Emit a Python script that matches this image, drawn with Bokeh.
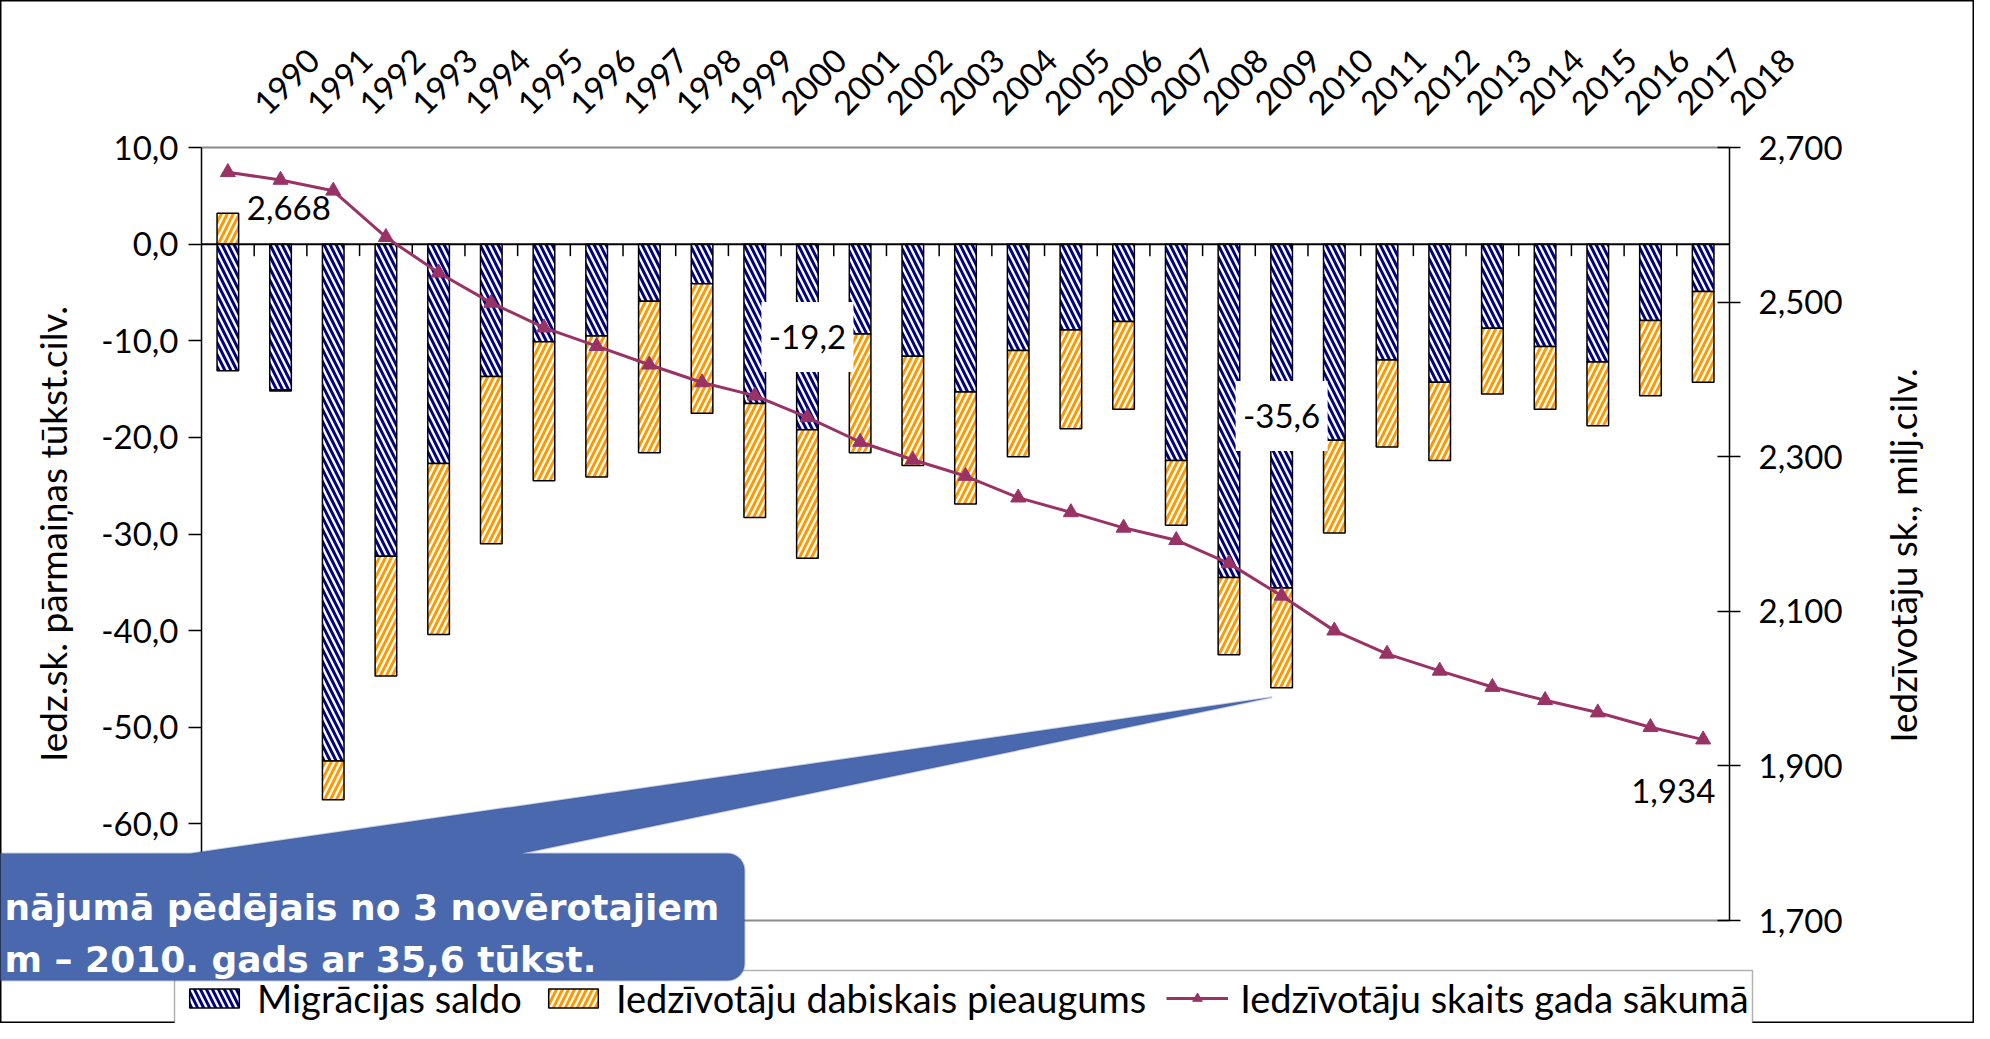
import numpy as np
from math import pi
from bokeh.plotting import figure
from bokeh.models import (Range1d, LinearAxis, FixedTicker, CustomJSTickFormatter,
                          Legend, LegendItem, PolyAnnotation, BoxAnnotation, Label)
from bokeh.core.properties import value
from bokeh.embed import file_html
from bokeh.resources import INLINE

# ---------------- data ----------------
years = ["1990", "1991", "1992", "1993", "1994", "1995", "1996", "1997", "1998", "1999",
         "2000", "2001", "2002", "2003", "2004", "2005", "2006", "2007", "2008", "2009",
         "2010", "2011", "2012", "2013", "2014", "2015", "2016", "2017", "2018"]
# Migrācijas saldo, tūkst. cilv.
migration = [-13.1, -15.1, -53.5, -32.3, -22.7, -13.7, -10.1, -9.5, -5.9, -4.1,
             -16.5, -19.2, -9.3, -11.6, -15.3, -11.0, -8.9, -8.0, -22.4, -34.5,
             -35.6, -20.3, -12.0, -14.3, -8.7, -10.6, -12.2, -7.9, -4.9]
# Iedzīvotāju dabiskais pieaugums, tūkst. cilv.
natural = [3.2, -0.1, -4.0, -12.4, -17.7, -17.3, -14.4, -14.6, -15.7, -13.4,
           -11.8, -13.3, -12.3, -11.3, -11.6, -11.0, -10.2, -9.1, -6.7, -8.0,
           -10.3, -9.6, -9.0, -8.1, -6.8, -6.5, -6.6, -7.8, -9.4]
# Iedzīvotāju skaits gada sākumā, milj. cilv.
population = [2.668, 2.658, 2.644, 2.584, 2.538, 2.499, 2.467, 2.443, 2.419, 2.396,
              2.379, 2.351, 2.319, 2.296, 2.275, 2.247, 2.228, 2.208, 2.192, 2.162,
              2.120, 2.075, 2.045, 2.023, 2.002, 1.985, 1.969, 1.950, 1.934]
left_min, left_max = -70, 10
left_ticks = [10, 0, -10, -20, -30, -40, -50, -60]
right_min, right_max = 1.7, 2.7
right_ticks = [1.7, 1.9, 2.1, 2.3, 2.5, 2.7]
labelled_years = ["2001", "2010"]
series_names = ["Migrācijas saldo", "Iedzīvotāju dabiskais pieaugums",
                "Iedzīvotāju skaits gada sākumā"]
left_title = "Iedz.sk. pārmaiņas tūkst.cilv."
right_title = "Iedzīvotāju sk., milj.cilv."
callout_lines = ["nājumā pēdējais no 3 novērotajiem", "m – 2010. gads ar 35,6 tūkst."]

# ---------------- layout (canvas pixels) ----------------
W, H = 1974, 1023
PL, PR, PT, PB = 201, 1729, 147, 920      # plot area inside the canvas
n = len(years)
cat_w = (PR - PL) / n
ppu = (PB - PT) / (left_max - left_min)
ppu2 = (PB - PT) / (right_max - right_min)
x0 = -0.5 - PL / cat_w
x1 = n - 0.5 + (W - PR) / cat_w
y1 = left_max + PT / ppu
y0 = left_min - (H - PB) / ppu
r1 = right_max + PT / ppu2
r0 = right_min - (H - PB) / ppu2


def dx(page_x):
    return x0 + (page_x - 8) / cat_w


def dy(page_y):
    return y1 - (page_y - 8) / ppu


# ---------------- derived ----------------
idx = np.arange(n)
mig = np.array(migration)
nat = np.array(natural)
mig_bottom = np.minimum(mig, 0)
mig_top = np.maximum(mig, 0)
nat_bottom = np.where(nat >= 0, 0, mig_bottom + nat)
nat_top = np.where(nat >= 0, nat, mig_bottom)

FONT = "Lato"
FS = "33px"      # numbers
FS_T = "37px"    # words
NAVY = "#000080"
ORANGE = "#FF9900"
PLUM = "#993366"
CALLOUT = "#4A68AD"

p = figure(width=W, height=H, output_backend="svg", toolbar_location=None,
           x_range=Range1d(x0, x1), y_range=Range1d(y0, y1),
           x_axis_location="above", y_axis_location="left")
p.min_border = 0
p.extra_y_ranges = {"pop": Range1d(r0, r1)}
p.grid.visible = False
p.outline_line_color = "black"
p.outline_line_width = 2
p.background_fill_color = "white"
p.border_fill_color = "white"

# top category axis (labels only)
xa = p.xaxis[0]
xa.fixed_location = left_max
xa.ticker = FixedTicker(ticks=[float(i) + 0.6 for i in idx])
xa.formatter = CustomJSTickFormatter(args=dict(labels=years),
                                     code="return labels[Math.round(tick - 0.6)]")
xa.axis_line_color = None
xa.major_tick_line_color = None
xa.minor_tick_line_color = None
xa.major_tick_out = 0
xa.major_label_standoff = 39
xa.major_label_orientation = pi / 4
xa.major_label_text_font = FONT
xa.major_label_text_font_size = FS
xa.major_label_text_color = "black"

# left axis
ya = p.yaxis[0]
ya.fixed_location = -0.5
ya.bounds = (left_min, left_max)
ya.ticker = FixedTicker(ticks=left_ticks)
ya.formatter = CustomJSTickFormatter(code="return tick.toFixed(1).replace('.', ',')")
ya.minor_tick_line_color = None
ya.major_tick_in = 0
ya.major_tick_out = 13
ya.major_tick_line_width = 1.5
ya.axis_line_width = 1.5
ya.major_label_standoff = 10
ya.major_label_text_font = FONT
ya.major_label_text_font_size = FS
ya.major_label_text_color = "black"

# right axis
ra = LinearAxis(y_range_name="pop", ticker=FixedTicker(ticks=right_ticks),
                formatter=CustomJSTickFormatter(code="return tick.toFixed(3).replace('.', ',')"))
ra.fixed_location = n - 0.5
ra.bounds = (right_min, right_max)
ra.minor_tick_line_color = None
ra.major_tick_in = 12
ra.major_tick_out = 11
ra.major_tick_line_width = 1.5
ra.axis_line_width = 1.5
ra.major_label_standoff = 18
ra.major_label_text_font = FONT
ra.major_label_text_font_size = FS
ra.major_label_text_color = "black"
p.add_layout(ra, "right")

# plot-area top/bottom border lines (gray)
p.segment(x0=[-0.5, -0.5], y0=[left_max, left_min], x1=[n - 0.5, n - 0.5],
          y1=[left_max, left_min], line_color="#8A8A8A", line_width=2)

# bars
r_mig = p.vbar(x=idx, bottom=mig_bottom, top=mig_top, width=0.41, fill_color="white",
               hatch_color=NAVY, hatch_pattern="\\", hatch_scale=12, hatch_weight=3,
               line_color="black", line_width=1.5)
r_nat = p.vbar(x=idx, bottom=nat_bottom, top=nat_top, width=0.41, fill_color="white",
               hatch_color=ORANGE, hatch_pattern="/", hatch_scale=12, hatch_weight=3,
               line_color="black", line_width=1.5)

# category axis at zero with tick marks between categories
p.segment(x0=[-0.5], y0=[0], x1=[n - 0.5], y1=[0], line_color="black", line_width=2)
bounds = idx[:-1] + 0.5
p.segment(x0=bounds, y0=np.zeros(len(bounds)), x1=bounds, y1=np.full(len(bounds), -12 / ppu),
          line_color="black", line_width=1.5)

# data labels on migration bars (white boxes)
lab_idx = [years.index(y) for y in labelled_years]
lab_x = [int(i) for i in lab_idx]
lab_y = [migration[i] / 2 for i in lab_idx]
lab_t = [("%.1f" % migration[i]).replace(".", ",") for i in lab_idx]
p.rect(x=lab_x, y=lab_y, width=92, height=70, width_units="screen", height_units="screen",
       fill_color="white", line_color=None)
p.text(x=lab_x, y=lab_y, text=lab_t, text_font=value(FONT), text_font_size=FS,
       text_align="center", text_baseline="middle", text_color="black")

# population line
r_line = p.line(x=idx, y=population, y_range_name="pop", line_color=PLUM, line_width=3)
r_pts = p.scatter(x=idx, y=population, y_range_name="pop", marker="triangle", size=15,
                  fill_color=PLUM, line_color=PLUM)

fmt3 = lambda v: ("%.3f" % v).replace(".", ",")
p.text(x=[idx[0] + 0.36], y=[population[0] - 0.046], text=[fmt3(population[0])],
       y_range_name="pop", text_font=value(FONT), text_font_size=FS,
       text_align="left", text_baseline="middle", text_color="black")
p.text(x=[idx[-1] + 0.23], y=[population[-1] - 0.066], text=[fmt3(population[-1])],
       y_range_name="pop", text_font=value(FONT), text_font_size=FS,
       text_align="right", text_baseline="middle", text_color="black")

# axis titles
p.add_layout(Label(x=dx(60), y=(left_min + left_max) / 2, text=left_title, angle=pi / 2,
                   text_font=FONT, text_font_size=FS_T, text_color="black",
                   text_align="center", text_baseline="middle"))
p.add_layout(Label(x=dx(1910), y=dy(563), text=right_title, angle=pi / 2,
                   text_font=FONT, text_font_size=FS_T, text_color="black",
                   text_align="center", text_baseline="middle"))

# legend frame (drawn separately so the callout can cover it)
p.add_layout(BoxAnnotation(left=dx(182), right=dx(1760), top=dy(978), bottom=dy(1045),
                           fill_color="white", fill_alpha=1, line_color="black",
                           line_width=1.5, level="annotation"))
legend = Legend(items=[LegendItem(label=series_names[0], renderers=[r_mig]),
                       LegendItem(label=series_names[1], renderers=[r_nat]),
                       LegendItem(label=series_names[2], renderers=[r_line, r_pts])],
                orientation="horizontal", location=(183, 2),
                glyph_width=62, glyph_height=24, label_standoff=12, spacing=20,
                padding=4, border_line_color=None,
                label_text_font=FONT, label_text_font_size="38px", label_text_color="black",
                background_fill_alpha=0)
p.add_layout(legend)

# callout (rounded box with pointer to the 2010 bar), drawn on top
i2010 = years.index("2010")
tip_x = i2010 - 0.18
tip_y = migration[i2010] + natural[i2010] - 1.0
left, right, top, bottom = dx(-20), dx(752), dy(861), dy(988)
xb1, xb2 = dx(198), dx(529)
rx, ry = 17 / cat_w, 17 / ppu
xs = [xb1, tip_x, xb2]
ys = [top, tip_y, top]
for th in np.linspace(pi / 2, 0, 10):
    xs.append(right - rx + rx * np.cos(th)); ys.append(top - ry + ry * np.sin(th))
for th in np.linspace(0, -pi / 2, 10):
    xs.append(right - rx + rx * np.cos(th)); ys.append(bottom + ry + ry * np.sin(th))
xs += [left, left]
ys += [bottom, top]
p.add_layout(PolyAnnotation(xs=list(map(float, xs)), ys=list(map(float, ys)),
                            fill_color=CALLOUT, fill_alpha=1, level="overlay",
                            line_color="#3A5693", line_width=2))
p.add_layout(Label(x=dx(12), y=dy(915), text=callout_lines[0], text_font="DejaVu Sans",
                   text_font_style="bold", text_font_size="36px", text_color="white",
                   text_align="left", text_baseline="alphabetic", level="overlay"))
p.add_layout(Label(x=dx(12), y=dy(967), text=callout_lines[1], text_font="DejaVu Sans",
                   text_font_style="bold", text_font_size="36px", text_color="white",
                   text_align="left", text_baseline="alphabetic", level="overlay"))

open("out.html", "w").write(file_html(p, INLINE))
